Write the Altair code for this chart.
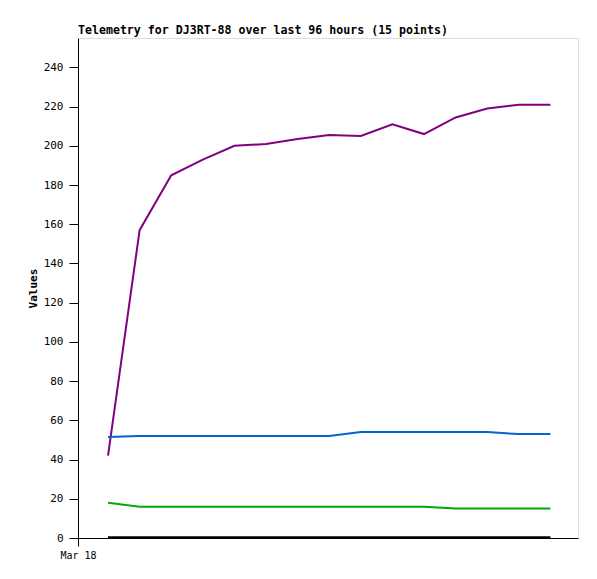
import altair as alt
import pandas as pd

times = [
    "2024-03-18T05:46:00Z", "2024-03-18T11:50:00Z", "2024-03-18T17:54:00Z",
    "2024-03-18T23:58:00Z", "2024-03-19T06:02:00Z", "2024-03-19T12:06:00Z",
    "2024-03-19T18:10:00Z", "2024-03-20T00:14:00Z", "2024-03-20T06:18:00Z",
    "2024-03-20T12:22:00Z", "2024-03-20T18:26:00Z", "2024-03-21T00:30:00Z",
    "2024-03-21T06:34:00Z", "2024-03-21T12:38:00Z", "2024-03-21T18:42:00Z",
]
purple_vals = [42, 157, 185, 193, 200, 201, 203.5, 205.5, 205, 211, 206, 214.5, 219, 221, 221]
blue_vals = [51.5, 52, 52, 52, 52, 52, 52, 52, 54, 54, 54, 54, 54, 53, 53]
green_vals = [18, 16, 16, 16, 16, 16, 16, 16, 16, 16, 16, 15, 15, 15, 15]
black_vals = [0.4] * 15

series_names = ["A", "B", "C", "D"]
series_colors = ["#800080", "#0066cc", "#00aa00", "#000000"]

rows = []
for name, vals in zip(series_names, [purple_vals, blue_vals, green_vals, black_vals]):
    for t, v in zip(times, vals):
        rows.append({"time": t, "value": v, "series": name})
df = pd.DataFrame(rows)

FONT = "DejaVu Sans Mono"

chart = alt.Chart(df).mark_line(strokeWidth=2).encode(
    x=alt.X(
        "time:T",
        scale=alt.Scale(
            type="utc",
            domain=[alt.DateTime(year=2024, month=3, date=18, utc=True),
                    alt.DateTime(year=2024, month=3, date=22, utc=True)],
        ),
        axis=alt.Axis(
            title=None,
            values=[alt.DateTime(year=2024, month=3, date=18, utc=True)],
            labelExpr="'Mar 18'",
            tickSize=8,
            labelPadding=4,
            grid=False,
            domainColor="black",
            tickColor="black",
            labelColor="black",
            labelFont=FONT,
            labelFontSize=10,
            labelOverlap=False,
            labelBound=False,
            labelFlush=False,
        ),
    ),
    y=alt.Y(
        "value:Q",
        scale=alt.Scale(domain=[0, 255], nice=False),
        axis=alt.Axis(
            title="Values",
            values=list(range(0, 241, 20)),
            tickSize=9,
            labelPadding=6,
            grid=False,
            domainColor="black",
            tickColor="black",
            labelColor="black",
            labelFont=FONT,
            labelFontSize=11,
            titleFont=FONT,
            titleFontSize=11,
            titleFontWeight="bold",
            titleColor="black",
            titlePadding=5,
        ),
    ),
    color=alt.Color("series:N", scale=alt.Scale(domain=series_names, range=series_colors), legend=None),
    order=alt.Order("time:T"),
).properties(
    width=500,
    height=500,
    title=alt.TitleParams(
        "Telemetry for DJ3RT-88 over last 96 hours (15 points)",
        anchor="start",
        frame="group",
        font=FONT,
        fontSize=11.6,
        fontWeight="bold",
        color="black",
        offset=1,
    ),
    padding={"left": 70, "top": 30, "right": 10, "bottom": 30},
    autosize=alt.AutoSizeParams(type="none"),
).configure_view(stroke="#555555", strokeWidth=1).configure(background="white")

chart.save("out.html", embed_options={"renderer": "svg", "actions": False})
